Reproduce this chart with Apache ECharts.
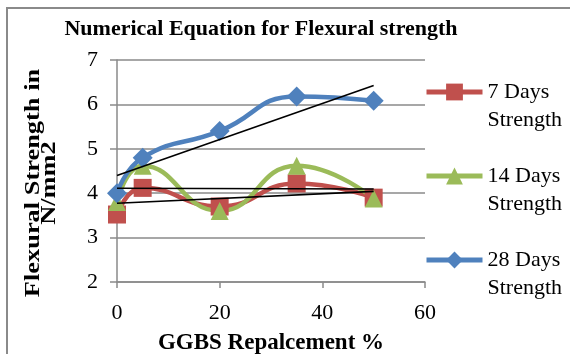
<!DOCTYPE html>
<html>
<head>
<meta charset="utf-8">
<script src="https://cdn.jsdelivr.net/npm/echarts@6/dist/echarts.min.js"></script>
<style>
  html, body { margin: 0; padding: 0; background: #fff; }
  #chart { width: 570px; height: 354px; }
</style>
</head>
<body>
<div id="chart"></div>
<script>
// GGBS replacement levels (%) and flexural strength results (N/mm2)
const replacement = [0, 5, 20, 35, 50];
const strength7 = [3.52, 4.12, 3.7, 4.22, 3.9];
const strength14 = [3.8, 4.62, 3.6, 4.62, 3.88];
const strength28 = [4.0, 4.8, 5.4, 6.18, 6.08];
const seriesNames = ['7 Days Strength', '14 Days Strength', '28 Days Strength'];
const xTicks = { min: 0, max: 60, interval: 20 };
const yTicks = { min: 2, max: 7, interval: 1 };

const colors = ['#C0504D', '#9BBB59', '#4F81BD'];
const symbols = ['rect', 'triangle', 'diamond'];
const symbolSizes = [18, 18, 20];
const serif = '"Liberation Serif", "Times New Roman", serif';
const axisGray = '#8a8a8a';

// least-squares straight line through a series, spanning the data range
function linearFit(xs, ys) {
  const n = xs.length;
  const mx = xs.reduce((a, b) => a + b, 0) / n;
  const my = ys.reduce((a, b) => a + b, 0) / n;
  let sxy = 0, sxx = 0;
  for (let i = 0; i < n; i++) {
    sxy += (xs[i] - mx) * (ys[i] - my);
    sxx += (xs[i] - mx) * (xs[i] - mx);
  }
  const slope = sxy / sxx;
  const icpt = my - slope * mx;
  const x0 = Math.min(...xs), x1 = Math.max(...xs);
  return [[x0, icpt + slope * x0], [x1, icpt + slope * x1]];
}

const dataSets = [strength7, strength14, strength28];

const dataSeries = dataSets.map((ys, i) => ({
  name: seriesNames[i],
  type: 'line',
  smooth: 0.5,
  data: replacement.map((x, j) => [x, ys[j]]),
  symbol: symbols[i],
  symbolSize: symbolSizes[i],
  showAllSymbol: true,
  lineStyle: { color: colors[i], width: 4.5 },
  itemStyle: { color: colors[i] },
  z: 2
}));

const trendSeries = dataSets.map((ys, i) => ({
  name: 'trend ' + i,
  type: 'line',
  data: linearFit(replacement, ys),
  symbol: 'none',
  silent: true,
  lineStyle: { color: '#000', width: 1.6 },
  z: 5
}));

const chart = echarts.init(document.getElementById('chart'), null, { renderer: 'canvas' });
chart.setOption({
  animation: false,
  backgroundColor: '#fff',
  grid: { left: 117, right: 145, top: 60, bottom: 72, outerBoundsMode: 'none' },
  legend: {
    data: seriesNames,
    orient: 'vertical',
    left: 424,
    top: 50,
    padding: 0,
    itemGap: 0,
    itemWidth: 56,
    itemHeight: 21,
    itemTextGap: 0,
    lineStyle: { width: 5 },
    // leading blank line keeps the first text line level with the icon
    formatter: (name) => '\n' + name.replace(' Strength', '\nStrength'),
    textStyle: {
      fontFamily: serif, fontSize: 22, color: '#000', lineHeight: 28
    }
  },
  xAxis: {
    type: 'value',
    min: xTicks.min, max: xTicks.max, interval: xTicks.interval,
    name: 'GGBS Repalcement %',
    nameLocation: 'middle',
    nameGap: 50,
    nameTextStyle: { fontFamily: serif, fontWeight: 'bold', fontSize: 23, color: '#000' },
    axisLine: { lineStyle: { color: axisGray, width: 1.5 } },
    axisTick: { show: true, length: 6, lineStyle: { color: axisGray, width: 1.5 } },
    axisLabel: { margin: 20, fontFamily: serif, fontSize: 22, color: '#000' },
    splitLine: { show: false }
  },
  yAxis: {
    type: 'value',
    min: yTicks.min, max: yTicks.max, interval: yTicks.interval,
    axisLine: { show: true, lineStyle: { color: axisGray, width: 1.5 } },
    axisTick: { show: true, length: 7, lineStyle: { color: axisGray, width: 1.5 } },
    axisLabel: { margin: 19, fontFamily: serif, fontSize: 22, color: '#000' },
    splitLine: { lineStyle: { color: axisGray, width: 1.5 } }
  },
  graphic: [
    {
      type: 'rect',
      shape: { x: 7, y: 8, width: 700, height: 500 },
      style: { fill: null, stroke: '#8a8a8a', lineWidth: 2 },
      silent: true,
      z: -10
    },
    {
      type: 'text',
      x: 261, y: 29,
      style: {
        text: 'Numerical Equation for Flexural strength',
        fontFamily: serif, fontWeight: 'bold', fontSize: 22, fill: '#000',
        align: 'center', verticalAlign: 'middle'
      }
    },
    {
      type: 'text',
      x: 42, y: 183,
      rotation: Math.PI / 2,
      scaleX: 1.32,
      style: {
        text: 'Flexural Strength in\nN/mm2',
        fontFamily: serif, fontWeight: 'bold', fontSize: 20,
        lineHeight: 16, fill: '#000',
        align: 'center', verticalAlign: 'middle'
      }
    }
  ],
  series: [...dataSeries, ...trendSeries]
});
</script>
</body>
</html>
